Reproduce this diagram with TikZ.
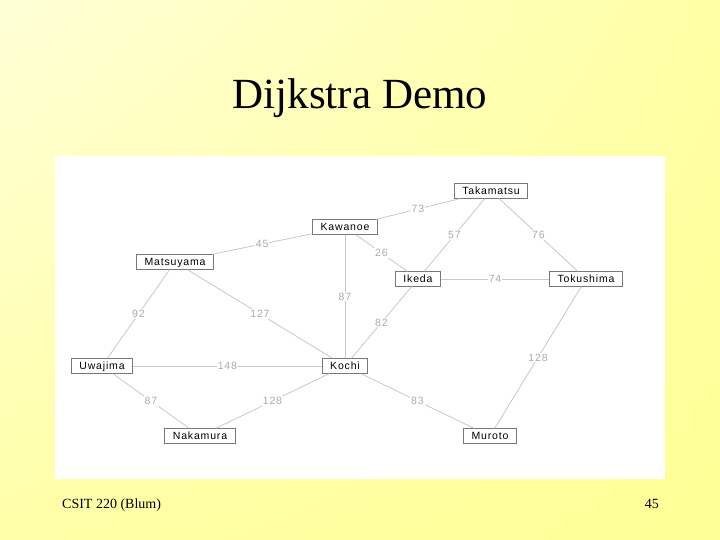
\documentclass[tikz,border=0pt]{standalone}
\usepackage{fontspec}
\usetikzlibrary{shadings}
\setmainfont{Liberation Serif}
\newfontfamily\nodefont[LetterSpace=8]{Liberation Sans}
\definecolor{edgegray}{RGB}{200,200,200}
\definecolor{labelgray}{RGB}{170,170,170}
\definecolor{boxgray}{RGB}{120,120,120}
\definecolor{bgA}{RGB}{255,255,215}
\definecolor{bgB}{RGB}{255,255,165}
\definecolor{bgC}{RGB}{255,255,168}
\definecolor{bgD}{RGB}{255,255,150}
\begin{document}
\begin{tikzpicture}[x=1pt,y=-1pt,
  city/.style={draw=boxgray, fill=white, line width=0.8pt,
    font=\nodefont\fontsize{10.5}{12}\selectfont, inner xsep=8pt, inner ysep=0pt,
    minimum height=14.5pt, text height=7.5pt, text depth=0pt},
  road/.style={draw=edgegray, line width=0.8pt},
  wt/.style={fill=white, text=labelgray, font=\nodefont\fontsize{10.5}{12}\selectfont,
    inner sep=1pt}
]
\useasboundingbox (0,0) rectangle (720,540);
\shade[upper left=bgA, upper right=bgB, lower left=bgC, lower right=bgD] (0,0) rectangle (720,540);
\fill[white] (55,156) rectangle (665,479);

\node[anchor=base, font=\fontsize{43}{50}\selectfont] (title) at (360,109) {Dijkstra Demo};
\node[anchor=base west, font=\fontsize{14}{16}\selectfont, inner sep=0pt] (foot) at (62,508) {CSIT 220 (Blum)};
\node[anchor=base east, font=\fontsize{14}{16}\selectfont, inner sep=0pt] (page) at (659,508) {45};

\node[city] (tak) at (491,191) {Takamatsu};
\node[city] (kaw) at (345,227) {Kawanoe};
\node[city] (mat) at (175,262) {Matsuyama};
\node[city] (ike) at (418,279) {Ikeda};
\node[city] (tok) at (586,279) {Tokushima};
\node[city] (uwa) at (102,366) {Uwajima};
\node[city] (koc) at (345,366) {Kochi};
\node[city] (nak) at (200,436) {Nakamura};
\node[city] (mur) at (490,436) {Muroto};

\draw[road] (kaw) -- node[wt]{73} (tak);
\draw[road] (tak) -- node[wt]{57} (ike);
\draw[road] (tak) -- node[wt]{76} (tok);
\draw[road] (kaw) -- node[wt]{26} (ike);
\draw[road] (kaw) -- node[wt]{87} (koc);
\draw[road] (mat) -- node[wt]{45} (kaw);
\draw[road] (ike) -- node[wt]{74} (tok);
\draw[road] (ike) -- node[wt]{82} (koc);
\draw[road] (mat) -- node[wt]{92} (uwa);
\draw[road] (mat) -- node[wt]{127} (koc);
\draw[road] (uwa) -- node[wt]{148} (koc);
\draw[road] (tok) -- node[wt]{128} (mur);
\draw[road] (uwa) -- node[wt]{87} (nak);
\draw[road] (koc) -- node[wt]{128} (nak);
\draw[road] (koc) -- node[wt]{83} (mur);
\end{tikzpicture}
\end{document}
